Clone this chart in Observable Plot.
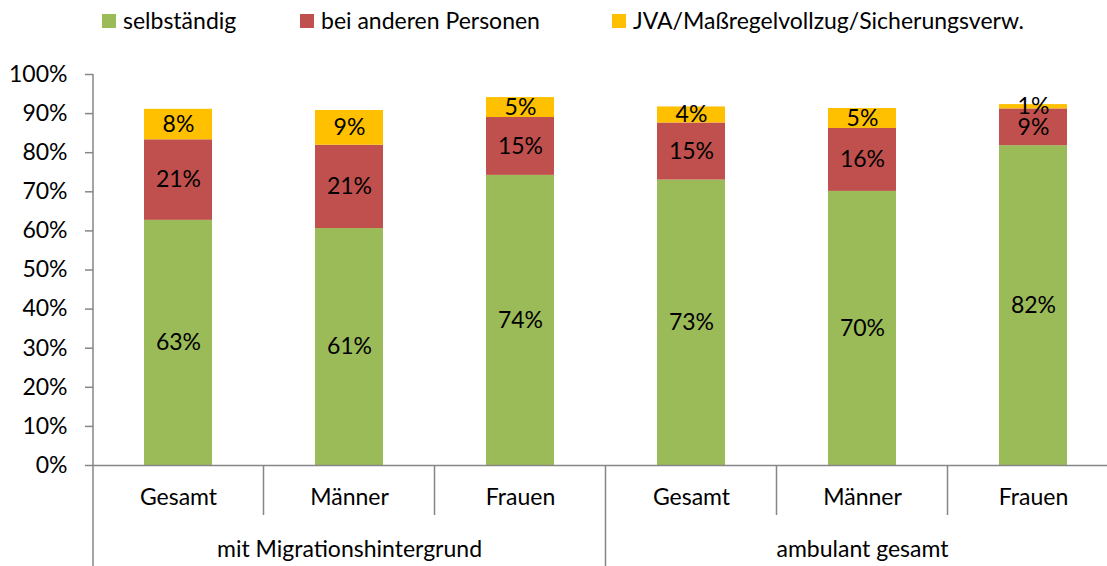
<!DOCTYPE html>
<html><head><meta charset="utf-8">
<script src="https://cdn.jsdelivr.net/npm/d3@7"></script>
<script src="https://cdn.jsdelivr.net/npm/@observablehq/plot@0.6"></script>
<style>
body{margin:0;background:#fff;font-family:Lato,sans-serif;overflow:hidden;}
#legend{position:relative;height:50px;width:1107px;font-size:23px;line-height:29px;color:#000}
.item{position:absolute;top:6px;display:flex;align-items:center;white-space:nowrap;}
.sw{width:14px;height:14px;margin-right:7px}
#chart svg{display:block}
</style></head><body>
<div id="legend"></div><div id="chart"></div>
<script>
const groups = ["mit Migrationshintergrund", "ambulant gesamt"];
const subs = ["Gesamt", "Männer", "Frauen"];
const series = ["selbständig", "bei anderen Personen", "JVA/Maßregelvollzug/Sicherungsverw."];
const colors = ["#9BBB59", "#C0504D", "#FFC000"];
const selbstaendig = [62.7, 60.6, 74.2, 73.0, 70.1, 81.8];
const beiAnderen = [20.6, 21.3, 14.8, 14.6, 16.1, 9.4];
const jva = [7.8, 8.9, 5.1, 4.1, 5.1, 1.1];
const yTicks = [0, 10, 20, 30, 40, 50, 60, 70, 80, 90, 100];

const legendLeft = [102, 300, 612];
const legend = document.getElementById("legend");
series.forEach((s, i) => {
  const it = document.createElement("div");
  it.className = "item";
  it.style.left = legendLeft[i] + "px";
  it.innerHTML = `<span class="sw" style="background:${colors[i]}"></span><span>${s}</span>`;
  legend.appendChild(it);
});

const cats = [];
groups.forEach(g => subs.forEach(s => cats.push({key: g + "|" + s, group: g, sub: s})));
const values = [selbstaendig, beiAnderen, jva];
const rows = [];
cats.forEach((c, i) => values.forEach((arr, s) => rows.push({key: c.key, series: series[s], value: arr[i]})));
const groupLabels = groups.map((g, gi) => ({key: cats[gi * 3 + 1].key, label: g}));

const W = 1107, H = 516;
const axisColor = "#868686";
const FS = 23;
const plot = Plot.plot({
  width: W, height: H,
  marginLeft: 93, marginRight: -12, marginTop: 24, marginBottom: 101,
  style: {fontFamily: "Lato, sans-serif", fontSize: FS + "px", color: "#000", background: "#fff", overflow: "visible"},
  x: {domain: cats.map(c => c.key), paddingInner: 0.6, paddingOuter: 0.3, axis: null},
  y: {domain: [0, 100], axis: null},
  color: {domain: series, range: colors},
  marks: [
    Plot.barY(rows, Plot.stackY({x: "key", y: "value", fill: "series"})),
    Plot.text(rows, Plot.stackY({x: "key", y: "value", z: "series", text: d => Math.round(d.value) + "%", fill: "#000", fontSize: FS})),
    Plot.axisY({ticks: yTicks, tickFormat: d => d + "%", tickSize: 8, tickPadding: 18, stroke: axisColor, strokeWidth: 1.5, fill: "#000", fontSize: FS, label: null}),
    Plot.ruleY([0], {stroke: axisColor, strokeWidth: 1.5}),
    Plot.text(cats, {x: "key", text: "sub", frameAnchor: "bottom", dy: 39, fill: "#000", fontSize: FS}),
    Plot.text(groupLabels, {x: "key", text: "label", frameAnchor: "bottom", dy: 91, fill: "#000", fontSize: FS})
  ]
});
document.getElementById("chart").appendChild(plot);

// separators and axis line drawn from the plot's own scales
const xs = plot.scale("x"), ys = plot.scale("y");
const svg = d3.select(plot);
const y0 = ys.apply(0), yTop = ys.apply(100);
const g = svg.append("g").attr("stroke", axisColor).attr("stroke-width", 1.5);
g.append("line").attr("x1", 93).attr("x2", 93).attr("y1", yTop).attr("y2", H);
cats.forEach((c, i) => {
  if (i === 0) return;
  const xb = (xs.apply(cats[i - 1].key) + xs.bandwidth + xs.apply(c.key)) / 2;
  const isGroup = cats[i - 1].group !== c.group;
  g.append("line").attr("x1", xb).attr("x2", xb).attr("y1", y0).attr("y2", isGroup ? H : y0 + 50);
});
</script>
</body></html>
